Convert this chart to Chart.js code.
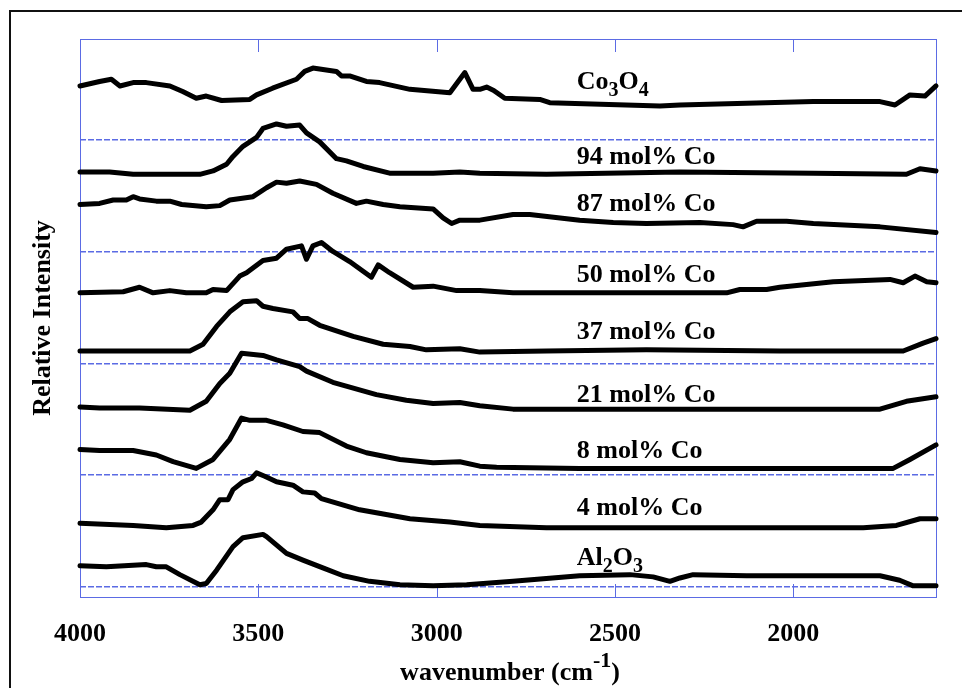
<!DOCTYPE html>
<html>
<head>
<meta charset="utf-8">
<script src="https://cdn.jsdelivr.net/npm/chart.js@4"></script>
<style>
  html, body { margin: 0; padding: 0; background: #fff; }
  #wrap { width: 962px; height: 688px; }
</style>
</head>
<body>
<div id="wrap"><canvas id="ir"></canvas></div>
<script>
// IR spectra, wavenumber (cm-1) vs relative intensity (curves offset)

const xTickValues = [4000, 3500, 3000, 2500, 2000];
const yGridValues = [0, 1, 2, 3, 4];

const co3o4Wn = [4000,3945,3912,3888,3851,3814,3748,3712,3674,3646,3603,3524,3505,3460,3393,3370,3347,3281,3267,3244,3197,3160,3075,2963,2921,2898,2879,2860,2840,2809,2711,2683,2374,2318,1944,1757,1715,1673,1631,1600];
const co3o4 = [4.48,4.52,4.54,4.48,4.51,4.51,4.48,4.43,4.37,4.39,4.35,4.36,4.40,4.46,4.54,4.61,4.64,4.61,4.57,4.57,4.52,4.51,4.45,4.42,4.60,4.45,4.45,4.47,4.44,4.37,4.36,4.33,4.30,4.31,4.34,4.34,4.31,4.40,4.39,4.48];

const co94Wn = [4000,3917,3851,3664,3627,3589,3571,3543,3505,3487,3449,3421,3384,3365,3328,3281,3253,3206,3132,3010,2935,2879,2692,2318,1944,1683,1645,1600];
const co94 = [3.71,3.71,3.69,3.69,3.72,3.78,3.85,3.94,4.02,4.10,4.14,4.12,4.13,4.06,3.98,3.83,3.81,3.76,3.70,3.70,3.71,3.70,3.69,3.71,3.70,3.69,3.74,3.72];

const co87Wn = [4000,3945,3907,3870,3851,3833,3786,3748,3715,3646,3608,3580,3515,3477,3449,3421,3384,3337,3291,3225,3197,3150,3103,3010,2982,2958,2935,2879,2786,2739,2599,2505,2412,2262,2169,2141,2103,2019,1944,1757,1600];
const co87 = [3.42,3.43,3.46,3.46,3.49,3.47,3.45,3.45,3.42,3.40,3.41,3.46,3.49,3.57,3.62,3.61,3.63,3.60,3.52,3.43,3.45,3.42,3.40,3.38,3.30,3.25,3.28,3.28,3.33,3.33,3.28,3.26,3.25,3.26,3.24,3.22,3.27,3.27,3.25,3.22,3.17];

const co50Wn = [4000,3879,3833,3795,3748,3702,3646,3627,3589,3552,3533,3487,3449,3421,3379,3365,3347,3323,3291,3244,3183,3164,3132,3066,3010,2944,2879,2786,2187,2150,2075,2038,1888,1729,1692,1659,1626,1600];
const co50 = [2.63,2.64,2.68,2.63,2.65,2.63,2.63,2.66,2.65,2.78,2.81,2.92,2.94,3.02,3.05,2.93,3.05,3.08,3.00,2.91,2.77,2.88,2.81,2.68,2.69,2.65,2.65,2.63,2.63,2.66,2.66,2.68,2.73,2.75,2.72,2.78,2.73,2.72];

const co37Wn = [4000,3692,3655,3617,3580,3543,3505,3487,3459,3403,3384,3361,3328,3234,3150,3075,3029,2935,2879,2692,2412,2038,1692,1636,1600];
const co37 = [2.11,2.11,2.17,2.33,2.46,2.55,2.56,2.51,2.49,2.46,2.40,2.40,2.34,2.24,2.17,2.15,2.12,2.13,2.10,2.11,2.12,2.11,2.11,2.18,2.22];

const co21Wn = [4000,3945,3833,3692,3646,3608,3580,3547,3487,3449,3384,3365,3291,3169,3085,3010,2935,2879,2786,1757,1683,1600];
const co21 = [1.61,1.60,1.60,1.58,1.66,1.82,1.91,2.09,2.07,2.03,1.97,1.93,1.83,1.72,1.67,1.64,1.65,1.62,1.59,1.59,1.66,1.70];

const co8Wn = [4000,3945,3851,3786,3739,3674,3627,3580,3547,3524,3477,3431,3375,3328,3253,3197,3103,3010,2935,2879,2832,2599,1720,1673,1600];
const co8 = [1.23,1.22,1.22,1.18,1.12,1.06,1.14,1.32,1.51,1.49,1.49,1.45,1.39,1.38,1.26,1.20,1.14,1.11,1.12,1.08,1.07,1.06,1.06,1.14,1.27];

const co4Wn = [4000,3851,3758,3683,3660,3627,3608,3585,3571,3543,3519,3505,3482,3449,3403,3375,3342,3323,3216,3075,2963,2879,2692,2131,1804,1711,1645,1600];
const co4 = [0.57,0.55,0.53,0.55,0.58,0.69,0.78,0.78,0.87,0.94,0.97,1.02,0.99,0.94,0.91,0.85,0.84,0.79,0.69,0.61,0.58,0.55,0.53,0.53,0.53,0.55,0.61,0.61];

const al2o3Wn = [4000,3926,3814,3786,3758,3720,3664,3646,3617,3571,3543,3487,3477,3421,3375,3319,3262,3188,3103,3010,2916,2786,2599,2458,2393,2346,2318,2281,2131,1944,1757,1702,1664,1600];
const al2o3 = [0.19,0.18,0.20,0.18,0.18,0.11,0.02,0.03,0.15,0.36,0.44,0.47,0.45,0.30,0.24,0.17,0.10,0.05,0.02,0.01,0.02,0.05,0.10,0.11,0.09,0.05,0.08,0.11,0.10,0.10,0.10,0.06,0.01,0.01];

// sample names ('_' marks a subscript digit) and where each name sits
const sampleNames = ['Co_3O_4', '94 mol% Co', '87 mol% Co', '50 mol% Co', '37 mol% Co', '21 mol% Co', '8 mol% Co', '4 mol% Co', 'Al_2O_3'];
const nameWn = 2607;
const nameLevel = [4.45, 3.785, 3.365, 2.73, 2.22, 1.655, 1.155, 0.645, 0.195];

const spectra = [
    [co3o4Wn, co3o4], [co94Wn, co94], [co87Wn, co87], [co50Wn, co50], [co37Wn, co37],
    [co21Wn, co21], [co8Wn, co8], [co4Wn, co4], [al2o3Wn, al2o3]
];

const SERIF = "'Times New Roman', 'Liberation Serif', serif";
const AXIS_BLUE = '#5b6be4';

function drawRich(ctx, text, x, y, mainFont, smallFont, shift) {
    let cx = x;
    for (let i = 0; i < text.length; i++) {
        let ch = text[i];
        let dy = 0;
        if (ch === '_') {
            ch = text[++i];
            ctx.font = smallFont;
            dy = shift;
        } else {
            ctx.font = mainFont;
        }
        ctx.fillText(ch, cx, y + dy);
        cx += ctx.measureText(ch).width;
    }
}

const decorations = {
    id: 'decorations',
    beforeDraw(chart) {
        const ctx = chart.ctx;
        ctx.save();
        ctx.fillStyle = '#fff';
        ctx.fillRect(0, 0, chart.width, chart.height);
        ctx.restore();
    },
    beforeDatasetsDraw(chart) {
        const {ctx, chartArea: a, scales: {x}} = chart;
        ctx.save();
        ctx.strokeStyle = AXIS_BLUE;
        ctx.lineWidth = 1;
        ctx.strokeRect(a.left + 0.5, a.top + 0.5, a.right - a.left, a.bottom - a.top);
        // inward ticks top and bottom
        ctx.beginPath();
        xTickValues.forEach(v => {
            const px = Math.round(x.getPixelForValue(v)) + 0.5;
            ctx.moveTo(px, a.bottom);
            ctx.lineTo(px, a.bottom - 13);
            ctx.moveTo(px, a.top);
            ctx.lineTo(px, a.top + 13);
        });
        ctx.stroke();
        ctx.restore();
    },
    afterDraw(chart) {
        const {ctx, chartArea: a, scales: {x, y}} = chart;
        ctx.save();
        // outer frame (top and left edge only, like the original figure)
        ctx.strokeStyle = '#111';
        ctx.lineWidth = 2;
        ctx.beginPath();
        ctx.moveTo(10, chart.height);
        ctx.lineTo(10, 11);
        ctx.lineTo(chart.width, 11);
        ctx.stroke();

        ctx.fillStyle = '#000';
        ctx.textBaseline = 'alphabetic';
        ctx.textAlign = 'left';
        const main = 'bold 26px ' + SERIF;
        const sub = 'bold 20px ' + SERIF;
        chart.data.datasets.forEach((ds, i) => {
            drawRich(ctx, ds.label, x.getPixelForValue(nameWn), y.getPixelForValue(nameLevel[i]), main, sub, 7);
        });

        // x axis title with superscript
        const t1 = 'wavenumber (cm', t2 = '-1', t3 = ')';
        const sup = 'bold 22px ' + SERIF;
        ctx.font = main;
        const w1 = ctx.measureText(t1).width, w3 = ctx.measureText(t3).width;
        ctx.font = sup;
        const w2 = ctx.measureText(t2).width;
        let tx = (a.left + a.right) / 2 + 2 - (w1 + w2 + w3) / 2;
        const ty = chart.height - 8;
        ctx.font = main; ctx.fillText(t1, tx, ty); tx += w1;
        ctx.font = sup; ctx.fillText(t2, tx, ty - 13); tx += w2;
        ctx.font = main; ctx.fillText(t3, tx, ty);
        ctx.restore();
    }
};

new Chart(document.getElementById('ir'), {
    type: 'line',
    data: {
        datasets: spectra.map(([wn, vals], i) => ({
            label: sampleNames[i],
            data: wn.map((w, k) => ({x: w, y: vals[k]})),
            borderColor: '#000',
            borderWidth: 5,
            borderJoinStyle: 'round',
            borderCapStyle: 'round',
            pointRadius: 0,
            tension: 0,
            fill: false,
            clip: 4
        }))
    },
    options: {
        responsive: true,
        maintainAspectRatio: false,
        animation: false,
        events: [],
        layout: { padding: { left: 0, top: 39, right: 26, bottom: 0 } },
        plugins: {
            legend: { display: false },
            tooltip: { enabled: false }
        },
        scales: {
            x: {
                type: 'linear',
                reverse: true,
                min: 1600,
                max: 4000,
                afterBuildTicks: s => { s.ticks = xTickValues.map(v => ({value: v})); },
                afterFit: s => { s.height = 91; },
                grid: { display: false, drawTicks: false },
                border: { display: false },
                ticks: {
                    padding: 22,
                    maxRotation: 0,
                    color: '#000',
                    callback: v => String(v),
                    font: { family: SERIF, size: 26, weight: 'bold' }
                }
            },
            y: {
                type: 'linear',
                min: -0.09,
                max: 4.90,
                afterBuildTicks: s => { s.ticks = yGridValues.map(v => ({value: v})); },
                afterFit: s => { s.width = 80; },
                grid: { color: AXIS_BLUE, lineWidth: 1.5, drawTicks: false },
                border: { display: false, dash: [6, 2] },
                ticks: { display: false },
                title: {
                    display: true,
                    text: 'Relative Intensity',
                    color: '#000',
                    padding: { top: 28, bottom: 0 },
                    font: { family: SERIF, size: 26, weight: 'bold' }
                }
            }
        }
    },
    plugins: [decorations]
});
</script>
</body>
</html>
